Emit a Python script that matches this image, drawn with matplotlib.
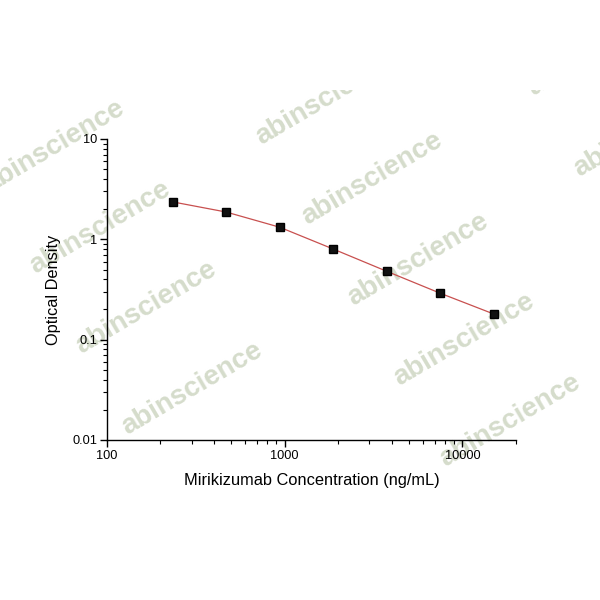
import numpy as np
import matplotlib
matplotlib.use('Agg')
import matplotlib.pyplot as plt
from matplotlib.transforms import Bbox

plt.rcParams['font.family'] = ['Liberation Sans', 'DejaVu Sans']

conc = [234.4, 468.8, 937.5, 1875, 3750, 7500, 15000]
od = [2.36, 1.87, 1.32, 0.80, 0.48, 0.29, 0.18]
xticks = [100, 1000, 10000]
xticklabels = ['100', '1000', '10000']
yticks = [0.01, 0.1, 1, 10]
yticklabels = ['0.01', '0.1', '1', '10']

fig = plt.figure(figsize=(6, 6), dpi=100)
ax = fig.add_axes([0.178, 0.2667, 0.682, 0.5017])
ax.patch.set_alpha(0)

ax.plot(conc, od, color='#c8504f', lw=0.9, zorder=2)
ax.plot(conc, od, ls='none', marker='s', ms=5.5, mfc='#111111', mec='#000000', zorder=3)

ax.set_xscale('log')
ax.set_yscale('log')
ax.set_xlim(100, 20000)
ax.set_ylim(0.01, 10)
ax.set_xticks(xticks)
ax.set_xticklabels(xticklabels)
ax.set_yticks(yticks)
ax.set_yticklabels(yticklabels)
ax.spines['top'].set_visible(False)
ax.spines['right'].set_visible(False)
for s in ['left', 'bottom']:
    ax.spines[s].set_linewidth(1.0)
ax.tick_params(which='major', length=5, width=1, labelsize=9.2, pad=2)
ax.tick_params(which='minor', length=3, width=0.8)
ax.set_xlabel('Mirikizumab Concentration (ng/mL)', fontsize=11.8, labelpad=8)
ax.set_ylabel('Optical Density', fontsize=11.8, labelpad=8)

# watermark grid
clip = Bbox.from_extents(0, 600 - 507, 600, 600 - 90)
for i in range(-3, 4):
    for j in range(-2, 3):
        px = 372 + 46 * i - 318 * j
        py = 179 + 80.5 * i - 32 * j
        if -100 < px < 700 and 0 < py < 620:
            t = fig.text(px / 600, 1 - py / 600, 'abinscience', rotation=30.5,
                         ha='center', va='center', fontsize=20, fontweight='bold',
                         color='#d5dccb', zorder=-1, rotation_mode='anchor')
            t.set_clip_on(True)
            t.set_clip_box(clip)

fig.savefig('out.png', dpi=100)
